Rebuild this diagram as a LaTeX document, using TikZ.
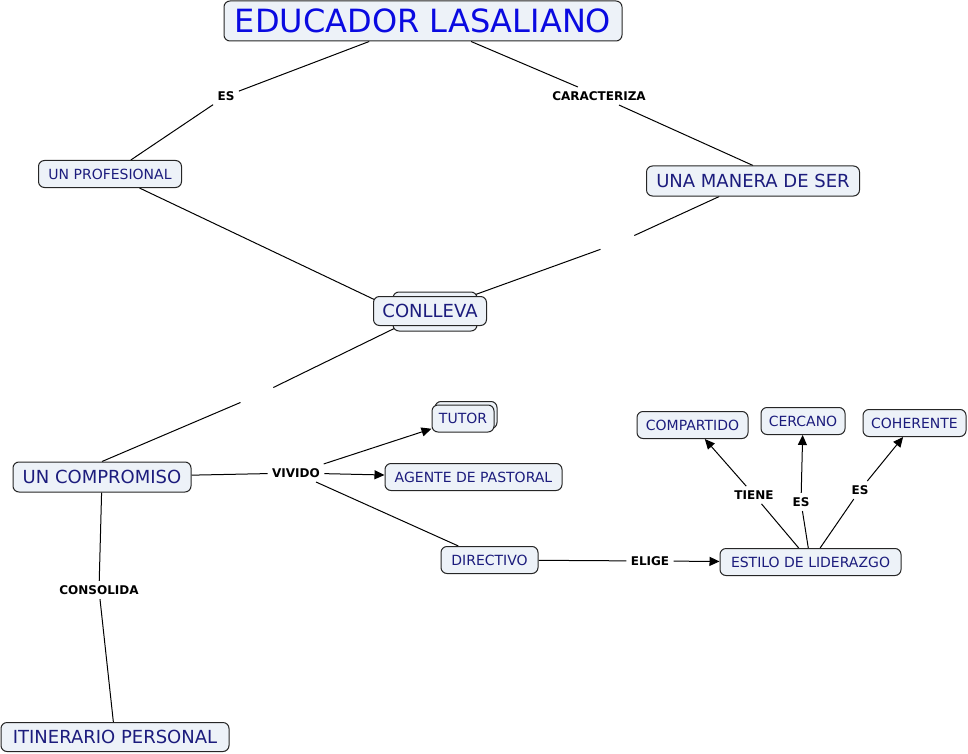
\documentclass[tikz,border=0pt]{standalone}
\usepackage{xcolor}
\usepackage{fontspec}
\setmainfont{DejaVu Sans}
\usetikzlibrary{arrows.meta, positioning}

\definecolor{cajafondo}{RGB}{237,242,248}
\definecolor{cajatexto}{RGB}{28,28,125}
\definecolor{titulo}{RGB}{10,10,225}

\pgfdeclarelayer{fondo}
\pgfsetlayers{fondo,main}

\tikzset{
  concepto/.style={draw=black!85, fill=cajafondo, rounded corners=6pt, text=cajatexto,
    font=\fontsize{14}{16}\selectfont, inner xsep=6pt, inner ysep=2pt, minimum height=27pt},
  grande/.style={concepto, font=\fontsize{18}{21}\selectfont, minimum height=30pt},
  enlace/.style={font=\bfseries\fontsize{12}{14}\selectfont, inner sep=4pt},
  hueco/.style={minimum width=34pt, minimum height=14pt, inner sep=0pt},
  linea/.style={draw=black, line width=1pt},
  flecha/.style={linea, -{Triangle[length=10pt,width=9pt]}},
}

\begin{document}
\begin{tikzpicture}[x=1pt, y=-1pt, line width=1pt]
                \useasboundingbox (0,0) rectangle (968,754);

                \node[concepto, font=\fontsize{32}{36}\selectfont, text=titulo, minimum height=40pt, minimum width=398pt] (educador) at (423,21) {EDUCADOR LASALIANO};
                \node[concepto, minimum width=143pt] (prof) at (110,174) {UN PROFESIONAL};
                \node[grande, minimum width=213pt] (manera) at (753,181) {UNA MANERA DE SER};
                \node[concepto, minimum width=84pt, minimum height=39pt] (conllevafondo) at (435,311.5) {};
                \node[grande, minimum width=113pt, minimum height=29pt] (conlleva) at (430,311) {CONLLEVA};
                \node[grande, minimum width=178pt] (compromiso) at (102,477) {UN COMPROMISO};
                \node[grande, minimum width=228pt, minimum height=29pt] (itinerario) at (115,737) {ITINERARIO PERSONAL};

                \node[concepto, minimum width=62pt] (tutorfondo) at (466,415) {};
                \node[concepto, minimum width=62pt] (tutor) at (463,418.5) {TUTOR};
                \node[concepto, minimum width=177pt] (agente) at (473.5,477) {AGENTE DE PASTORAL};
                \node[concepto, minimum width=97pt] (directivo) at (489.5,560) {DIRECTIVO};
                \node[concepto, minimum width=181pt] (estilo) at (810.5,562) {ESTILO DE LIDERAZGO};
                \node[concepto, minimum width=111pt] (compartido) at (692.5,425) {COMPARTIDO};
                \node[concepto, minimum width=84pt] (cercano) at (803,421) {CERCANO};
                \node[concepto, minimum width=103pt] (coherente) at (914.5,423) {COHERENTE};

                % frases de enlace
                \node[enlace] (es) at (226,96) {ES};
                \node[enlace] (caracteriza) at (599,96) {CARACTERIZA};
                \node[enlace] (vivido) at (296,473) {VIVIDO};
                \node[enlace] (elige) at (650,561) {ELIGE};
                \node[enlace] (tiene) at (754,495) {TIENE};
                \node[enlace] (esb) at (801,502) {ES};
                \node[enlace] (esc) at (860,490) {ES};
                \node[enlace] (consolida) at (99,590) {CONSOLIDA};
                \node[hueco] (huecoa) at (618,243) {};
                \node[hueco] (huecob) at (258,395) {};

                \begin{pgfonlayer}{fondo}
                \path[linea]
                (educador) edge (es)
                (es) edge (prof)
                (educador) edge (caracteriza)
                (caracteriza) edge (manera.north)
                (prof) edge (conlleva.south)
                (manera) edge (huecoa)
                (huecoa) edge (conlleva)
                (conlleva) edge (huecob)
                (huecob) edge (compromiso.north)

                % compromiso vivido
                (compromiso) edge (vivido)
                (vivido) edge (directivo)
                (directivo) edge (elige)
                (compromiso) edge (consolida)
                (consolida) edge (itinerario)

                % estilo de liderazgo
                (estilo) edge (tiene)
                (estilo) edge (esb)
                (estilo) edge (esc);

                \path[flecha]
                (vivido) edge (tutor)
                (vivido) edge (agente)
                (elige) edge (estilo)
                (tiene) edge (compartido)
                (esb) edge (cercano)
                (esc) edge (coherente);
                \end{pgfonlayer}
\end{tikzpicture}
\end{document}
